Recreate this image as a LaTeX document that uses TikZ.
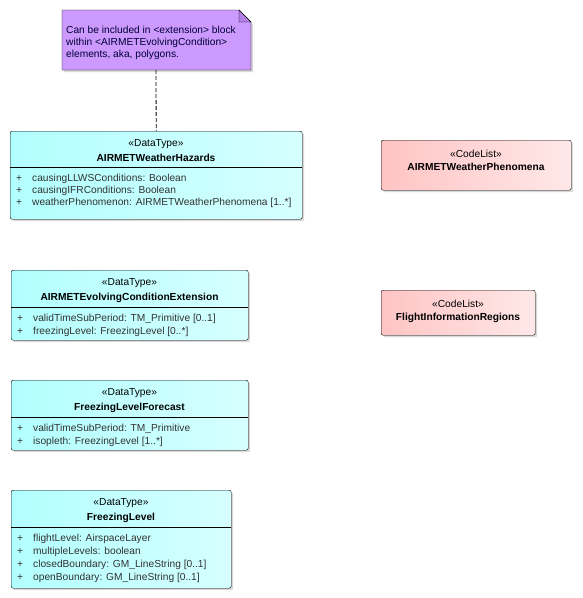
\documentclass[tikz,border=0pt]{standalone}
\usepackage{fontspec}
\setmainfont{Liberation Sans}
\usetikzlibrary{shadows}
\definecolor{notefill}{RGB}{204,153,255}
\definecolor{notefold}{RGB}{178,128,230}
\definecolor{dtleft}{RGB}{178,255,255}
\definecolor{dtright}{RGB}{214,255,255}
\definecolor{clleft}{RGB}{255,196,196}
\definecolor{clright}{RGB}{255,232,232}
\definecolor{attrgray}{RGB}{50,50,50}
\tikzset{
	dtbox/.style = {draw, rounded corners = 2pt, anchor = north west, inner sep = 0pt,
		left color = dtleft, right color = dtright,
		drop shadow = {shadow xshift = 2pt, shadow yshift = -2pt, fill = black, opacity = 0.15}},
	clbox/.style = {dtbox, left color = clleft, right color = clright},
	lbl/.style = {yshift = -1.5pt},
	attr/.style = {lbl, anchor = west, inner sep = 0pt, text = attrgray}
}
\begin{document}
\begin{tikzpicture}[x = 1pt, y = -1pt, font = \fontsize{10.2}{12}\selectfont]
	\useasboundingbox (0,0) rectangle (582,598);
	% note
	\fill[black!15] (64,12) -- (241,12) -- (253,24) -- (253,72) -- (64,72) -- cycle;
	\draw[fill = notefill] (62,10) -- (239,10) -- (251,22) -- (251,70) -- (62,70) -- cycle;
	\draw[fill = notefold] (239,10) -- (239,22) -- (251,22) -- cycle;
	\node[anchor = north west, align = left, inner sep = 0pt, text = blue!20!black] (notetext) at (66,26)
		{Can be included in <extension> block\\within <AIRMETEvolvingCondition>\\elements, aka, polygons.};
	\coordinate (notebot) at (156,70);
	% data types
	\node[dtbox, minimum width = 292, minimum height = 88] (hazards) at (10,131) {};
	\node[lbl] at (156,143) {«DataType»};
	\node[lbl] at (156,156) {\textbf{AIRMETWeatherHazards}};
	\draw (10,167) -- (302,167);
	\foreach \y/\t in {177/causingLLWSConditions: Boolean, 189/causingIFRConditions: Boolean,
		201/weatherPhenomenon: AIRMETWeatherPhenomena [1..*]}
		{\node[attr] at (16,\y) {+}; \node[attr] at (32,\y) {\t};}
	\draw[line width = 0.8pt, dash pattern = on 4pt off 2pt] (notebot) -- (hazards.north);

	\node[dtbox, minimum width = 237, minimum height = 70] (extension) at (11,270) {};
	\node[lbl] at (129.5,282) {«DataType»};
	\node[lbl] at (129.5,296) {\textbf{AIRMETEvolvingConditionExtension}};
	\draw (11,307) -- (248,307);
	\foreach \y/\t in {317/validTimeSubPeriod: TM\_Primitive [0..1], 330/freezingLevel: FreezingLevel [0..*]}
		{\node[attr] at (17,\y) {+}; \node[attr] at (33,\y) {\t};}

	\node[dtbox, minimum width = 237, minimum height = 70] (forecast) at (11,380) {};
	\node[lbl] at (129.5,392) {«DataType»};
	\node[lbl] at (129.5,406) {\textbf{FreezingLevelForecast}};
	\draw (11,417) -- (248,417);
	\foreach \y/\t in {427/validTimeSubPeriod: TM\_Primitive, 440/isopleth: FreezingLevel [1..*]}
		{\node[attr] at (17,\y) {+}; \node[attr] at (33,\y) {\t};}

	\node[dtbox, minimum width = 220, minimum height = 98] (level) at (11,490) {};
	\node[lbl] at (121,502) {«DataType»};
	\node[lbl] at (121,516) {\textbf{FreezingLevel}};
	\draw (11,527) -- (231,527);
	\foreach \y/\t in {537/flightLevel: AirspaceLayer, 550/multipleLevels: boolean,
		563/closedBoundary: GM\_LineString [0..1], 576/openBoundary: GM\_LineString [0..1]}
		{\node[attr] at (17,\y) {+}; \node[attr] at (33,\y) {\t};}
	% code lists
	\node[clbox, minimum width = 190, minimum height = 50] (phenomena) at (381,140) {};
	\node[lbl] at (476,152) {«CodeList»};
	\node[lbl] at (476,165) {\textbf{AIRMETWeatherPhenomena}};

	\node[clbox, minimum width = 154, minimum height = 45] (regions) at (381,290) {};
	\node[lbl] at (458,302) {«CodeList»};
	\node[lbl] at (458,316) {\textbf{FlightInformationRegions}};
\end{tikzpicture}
\end{document}
